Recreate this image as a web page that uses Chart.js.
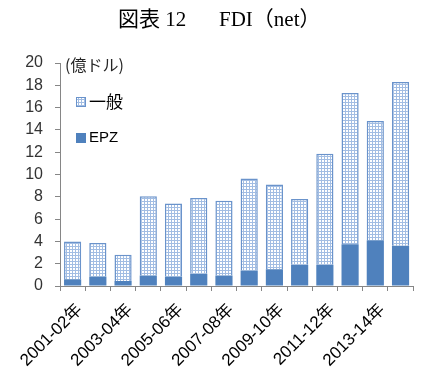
<!DOCTYPE html>
<html>
<head>
<meta charset="utf-8">
<script src="https://cdn.jsdelivr.net/npm/chart.js@4.4.1/dist/chart.umd.min.js"></script>
<style>
  html, body { margin: 0; padding: 0; background: #ffffff; }
  #wrap { width: 424px; height: 374px; }
</style>
</head>
<body>
<div id="wrap"><canvas id="chart" width="424" height="374"></canvas></div>
<script>
// Fiscal years (July–June)
const categories = [
  '2001-02年', '2002-03年', '2003-04年', '2004-05年', '2005-06年', '2006-07年', '2007-08年',
  '2008-09年', '2009-10年', '2010-11年', '2011-12年', '2012-13年', '2013-14年', '2014-15年'
];
// FDI inflows into export processing zones (億ドル)
const epzValues = [0.6, 0.85, 0.45, 0.95, 0.85, 1.1, 0.95, 1.4, 1.5, 1.9, 1.9, 3.75, 4.1, 3.6];
// FDI inflows outside the zones (億ドル)
const generalValues = [3.4, 3.0, 2.35, 7.1, 6.55, 6.8, 6.7, 8.25, 7.6, 5.9, 9.95, 13.55, 10.7, 14.7];
// Value axis ticks
const yTicks = [0, 2, 4, 6, 8, 10, 12, 14, 16, 18, 20];

const titleParts = ['図表 12', 'FDI（net）'];
const unitText = '(億ドル)';

const BLUE = '#4f81bd';
const EDGE = '#6a93cb';
const AXIS = '#868686';

function dotPattern() {
  const tile = document.createElement('canvas');
  tile.width = 3; tile.height = 3;
  const g = tile.getContext('2d');
  g.fillStyle = '#a2bde3';
  g.fillRect(0, 0, 3, 3);
  g.fillStyle = '#ffffff';
  g.fillRect(1, 1, 2, 2);
  return g.createPattern(tile, 'repeat');
}

const dotted = dotPattern();

// Title, unit caption and the in-plot legend
const decorations = {
  id: 'decorations',
  afterDraw(chart) {
    const ctx = chart.ctx;
    ctx.save();
    ctx.textBaseline = 'middle';

    ctx.fillStyle = '#000000';
    ctx.textAlign = 'left';
    ctx.font = "21px 'Liberation Serif', 'Noto Sans CJK JP'";
    ctx.fillText(titleParts[0], 118, 20);
    ctx.fillText(titleParts[1], 219, 20);

    ctx.fillStyle = '#262626';
    ctx.font = "16px 'Noto Sans CJK JP'";
    ctx.fillText(unitText, 65, 65);

    const ds = chart.data.datasets;
    const entries = [
      { d: ds[1], y: 102, font: "17px 'Noto Sans CJK JP'" },
      { d: ds[0], y: 138, font: "15px 'Liberation Sans'" }
    ];
    entries.forEach(e => {
      ctx.fillStyle = e.d.backgroundColor;
      ctx.fillRect(76, e.y - 5, 10, 10);
      if (e.d.borderWidth) {
        ctx.strokeStyle = e.d.borderColor;
        ctx.lineWidth = 1;
        ctx.strokeRect(76.5, e.y - 4.5, 9, 9);
      }
      ctx.fillStyle = '#000000';
      ctx.font = e.font;
      ctx.fillText(e.d.label, 89, e.y);
    });
    ctx.restore();
  }
};

new Chart(document.getElementById('chart'), {
  type: 'bar',
  data: {
    labels: categories,
    datasets: [
      {
        label: 'EPZ',
        data: epzValues,
        backgroundColor: BLUE,
        borderWidth: 0
      },
      {
        label: '一般',
        data: generalValues,
        backgroundColor: dotted,
        borderColor: EDGE,
        borderWidth: 1.5
      }
    ]
  },
  options: {
    responsive: false,
    animation: false,
    devicePixelRatio: 1,
    layout: { padding: { top: 63, right: 1, left: 0, bottom: 0 } },
    datasets: { bar: { categoryPercentage: 1, barPercentage: 0.68 } },
    plugins: {
      legend: { display: false },
      title: { display: false },
      tooltip: { enabled: false }
    },
    scales: {
      x: {
        stacked: true,
        grid: { offset: true, drawOnChartArea: false, tickLength: 5, color: AXIS },
        border: { color: AXIS, width: 1 },
        ticks: {
          autoSkip: false,
          maxRotation: 45,
          minRotation: 45,
          padding: 9,
          labelOffset: 7,
          color: '#000000',
          font: { family: "'Liberation Sans', 'Noto Sans CJK JP'", size: 17 },
          callback(value, index) {
            return index % 2 === 0 ? this.getLabelForValue(value) : '';
          }
        },
        afterFit(scale) { scale.height = 88; }
      },
      y: {
        stacked: true,
        min: 0,
        max: 20,
        afterBuildTicks(scale) { scale.ticks = yTicks.map(v => ({ value: v })); },
        grid: { drawOnChartArea: false, tickLength: 5, color: AXIS },
        border: { color: AXIS, width: 1 },
        ticks: {
          padding: 12,
          color: '#333333',
          font: { family: "'Liberation Sans'", size: 16 }
        },
        afterFit(scale) { scale.width = 60; }
      }
    }
  },
  plugins: [decorations]
});
</script>
</body>
</html>
